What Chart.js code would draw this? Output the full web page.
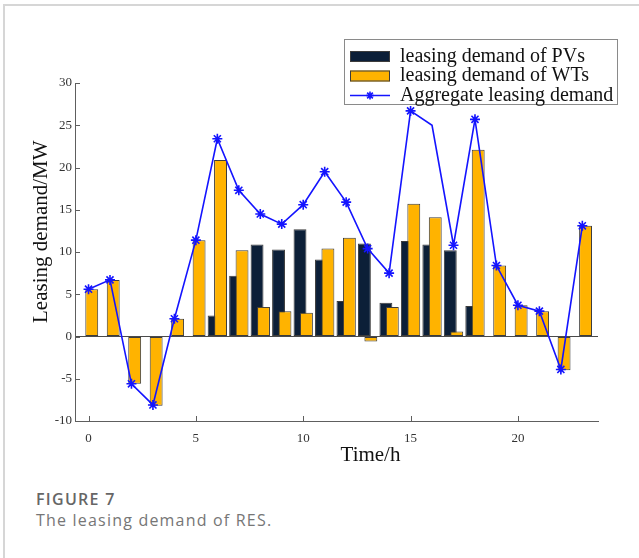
<!DOCTYPE html>
<html>
<head>
<meta charset="utf-8">
<title>The leasing demand of RES</title>
<script src="https://cdn.jsdelivr.net/npm/chart.js@4.4.1/dist/chart.umd.min.js"></script>
<style>
  html, body { margin: 0; padding: 0; background: #fff; }
  #page { position: relative; width: 639px; height: 558px; overflow: hidden; background: #fff; }
  #frame {
    position: absolute; left: 3px; top: 4px; right: -2px; bottom: -2px;
    border-top: 2px solid #d6d6d6; border-left: 2px solid #d6d6d6;
  }
  #chart { position: absolute; left: 0; top: 0; }
  .cap { position: absolute; left: 36px; font-family: 'Open Sans', sans-serif; white-space: nowrap; }
  .cap-num  { top: 489px; font-size: 16px; line-height: 20px; font-weight: 600; color: #666; letter-spacing: 1.3px; }
  .cap-text { top: 510px; font-size: 16px; line-height: 20px; color: #767676; letter-spacing: 1.2px; }
</style>
</head>
<body>
<div id="page">
  <div id="frame"></div>
  <canvas id="chart" width="639" height="480"></canvas>
  <div class="cap cap-num">FIGURE 7</div>
  <div class="cap cap-text">The leasing demand of RES.</div>
</div>

<script>
'use strict';

// ── data ──────────────────────────────────────────────
const HOURS = [0, 1, 2, 3, 4, 5, 6, 7, 8, 9, 10, 11, 12, 13, 14, 15, 16, 17, 18, 19, 20, 21, 22, 23];

const PV_DEMAND = [0, 0, 0, 0, 0, 0, 2.5, 7.2, 10.9, 10.3, 12.7, 9.1,
                   4.2, 11.0, 4.0, 11.3, 10.9, 10.2, 3.6, 0, 0, 0, 0, 0];

const WT_DEMAND = [5.6, 6.7, -5.6, -8.2, 2.1, 11.4, 20.9, 10.2, 3.5, 3.0, 2.8, 10.4,
                   11.7, -0.6, 3.5, 15.7, 14.1, 0.6, 22.1, 8.4, 3.7, 3.0, -4.0, 13.1];

const AGGREGATE = [5.6, 6.7, -5.6, -8.1, 2.1, 11.4, 23.4, 17.3, 14.5, 13.3, 15.6, 19.5,
                   15.9, 10.4, 7.5, 26.7, 25.0, 10.8, 25.7, 8.4, 3.7, 3.0, -3.9, 13.1];

// hours plotted without an asterisk marker
const UNMARKED_HOURS = [16];

const X_TICKS = [0, 5, 10, 15, 20];
const Y_TICKS = [-10, -5, 0, 5, 10, 15, 20, 25, 30];

// ── look ──────────────────────────────────────────────
const SERIF = '"Liberation Serif", "Times New Roman", serif';
const PV_COLOR = '#0c1f38';
const WT_COLOR = '#ffb300';
const LINE_COLOR = '#1414ff';
const EDGE_COLOR = '#3c3c3c';
const AXIS_COLOR = '#5e5e5e';

// x range of the plot, and how far each bar series sits off its hour
const X_MIN = -0.63, X_MAX = 23.73;
const BAR_SHIFT = 0.15;

const pairs = (ys) => HOURS.map((h, i) => ({ x: h, y: ys[i] }));

Chart.defaults.font.family = SERIF;
Chart.defaults.color = '#333';

// ── plugins ───────────────────────────────────────────
// small tick marks pointing into the plot
const inwardTicks = {
  id: 'inwardTicks',
  afterDraw(chart, args, opts) {
    const { ctx, chartArea: a, scales: { x, y } } = chart;
    ctx.save();
    ctx.strokeStyle = opts.color;
    ctx.lineWidth = 1;
    ctx.beginPath();
    x.ticks.forEach(t => {
      const px = Math.round(x.getPixelForValue(t.value)) + 0.5;
      ctx.moveTo(px, a.bottom);
      ctx.lineTo(px, a.bottom - opts.length);
    });
    y.ticks.forEach(t => {
      const py = Math.round(y.getPixelForValue(t.value)) + 0.5;
      ctx.moveTo(a.left, py);
      ctx.lineTo(a.left + opts.length, py);
    });
    ctx.stroke();
    ctx.restore();
  }
};

// axis titles, placed off-centre like the original figure
const axisTitles = {
  id: 'axisTitles',
  afterDraw(chart, args, opts) {
    const { ctx, chartArea: a, scales: { x, y } } = chart;
    ctx.save();
    ctx.fillStyle = opts.color;
    ctx.font = `${opts.size}px ${SERIF}`;
    ctx.textAlign = 'center';
    ctx.textBaseline = 'alphabetic';
    ctx.fillText(x.options.title.text, a.left + (a.right - a.left) * opts.xAt, a.bottom + opts.xDrop);
    ctx.translate(opts.yBaseline, a.top + (a.bottom - a.top) * opts.yAt);
    ctx.rotate(-Math.PI / 2);
    ctx.fillText(y.options.title.text, 0, 0);
    ctx.restore();
  }
};

// boxed legend sitting over the top-right corner
const boxLegend = {
  id: 'boxLegend',
  afterDraw(chart, args, o) {
    const { ctx } = chart;
    ctx.save();
    ctx.fillStyle = '#fff';
    ctx.fillRect(o.left, o.top, o.width, o.height);
    ctx.strokeStyle = '#8a8a8a';
    ctx.lineWidth = 1;
    ctx.strokeRect(o.left + 0.5, o.top + 0.5, o.width, o.height);

    ctx.font = `${o.size}px ${SERIF}`;
    ctx.textBaseline = 'middle';
    ctx.textAlign = 'left';
    chart.data.datasets.forEach((ds, i) => {
      const cy = o.top + o.rowTop + i * o.rowGap;
      const sx = o.left + o.swatchX;
      if (ds.type === 'line') {
        ctx.strokeStyle = ds.borderColor;
        ctx.lineWidth = ds.borderWidth;
        ctx.beginPath();
        ctx.moveTo(sx, cy);
        ctx.lineTo(sx + o.swatchW, cy);
        ctx.stroke();
        Chart.helpers.drawPoint(ctx, {
          pointStyle: 'star', radius: 4, borderWidth: ds.pointBorderWidth
        }, sx + o.swatchW / 2, cy);
      } else {
        ctx.fillStyle = ds.backgroundColor;
        ctx.fillRect(sx, cy - o.swatchH / 2, o.swatchW, o.swatchH);
        ctx.strokeStyle = ds.borderColor;
        ctx.lineWidth = 1;
        ctx.strokeRect(sx + 0.5, cy - o.swatchH / 2 + 0.5, o.swatchW - 1, o.swatchH - 1);
      }
      ctx.fillStyle = '#111';
      ctx.fillText(ds.label, o.left + o.textX, cy);
    });
    ctx.restore();
  }
};

// ── chart ─────────────────────────────────────────────
const barStyle = {
  borderColor: EDGE_COLOR,
  borderWidth: 1,
  borderSkipped: false,
  grouped: false,
  categoryPercentage: 0.6,
  barPercentage: 1.0,
};

new Chart(document.getElementById('chart'), {
  type: 'bar',
  data: {
    datasets: [
      {
        label: 'leasing demand of PVs',
        data: pairs(PV_DEMAND),
        xAxisID: 'xPV',
        backgroundColor: PV_COLOR,
        order: 2,
        ...barStyle,
      },
      {
        label: 'leasing demand of WTs',
        data: pairs(WT_DEMAND),
        xAxisID: 'xWT',
        backgroundColor: WT_COLOR,
        order: 1,
        ...barStyle,
      },
      {
        type: 'line',
        label: 'Aggregate leasing demand',
        data: pairs(AGGREGATE),
        xAxisID: 'x',
        borderColor: LINE_COLOR,
        borderWidth: 1.6,
        tension: 0,
        pointStyle: 'star',
        pointRadius: ctx => UNMARKED_HOURS.includes(HOURS[ctx.dataIndex]) ? 0 : 5,
        pointBorderColor: LINE_COLOR,
        pointBorderWidth: 1.6,
        order: 0,
      },
    ]
  },
  options: {
    responsive: false,
    animation: false,
    layout: { padding: { left: 0, top: 83, right: 41, bottom: 24 } },
    scales: {
      x: {
        type: 'linear',
        position: 'bottom',
        offset: false,
        min: X_MIN,
        max: X_MAX,
        afterFit: s => { s.height = 35; },
        afterBuildTicks: s => { s.ticks = X_TICKS.map(v => ({ value: v })); },
        ticks: { font: { size: 13 }, color: '#333', padding: 2, includeBounds: false },
        grid: { display: false, offset: false },
        border: { display: true, color: AXIS_COLOR, width: 1 },
        title: { display: false, text: 'Time/h' },
      },
      // bar series sit on their own hidden copies of x, nudged either side of the hour
      xPV: {
        type: 'linear', display: false, offset: false,
        min: X_MIN + BAR_SHIFT, max: X_MAX + BAR_SHIFT,
      },
      xWT: {
        type: 'linear', display: false, offset: false,
        min: X_MIN - BAR_SHIFT, max: X_MAX - BAR_SHIFT,
      },
      y: {
        min: -10,
        max: 30,
        afterFit: s => { s.width = 75; },
        afterBuildTicks: s => { s.ticks = Y_TICKS.map(v => ({ value: v })); },
        ticks: { font: { size: 13 }, color: '#333', padding: 3 },
        grid: {
          drawTicks: false,
          color: c => (c.tick && c.tick.value === 0) ? '#4a4a4a' : 'rgba(0,0,0,0)',
          lineWidth: 1,
        },
        border: { display: true, color: AXIS_COLOR, width: 1 },
        title: { display: false, text: 'Leasing demand/MW' },
      },
    },
    plugins: {
      legend: { display: false },
      tooltip: { enabled: false },
      inwardTicks: { color: AXIS_COLOR, length: 5 },
      axisTitles: { color: '#111', size: 21, xAt: 0.565, xDrop: 40, yAt: 0.44, yBaseline: 47 },
      boxLegend: {
        left: 344, top: 39, width: 273, height: 65, size: 20,
        rowTop: 17.5, rowGap: 19.5,
        swatchX: 6, swatchW: 40, swatchH: 11, textX: 56,
      },
    }
  },
  plugins: [inwardTicks, axisTitles, boxLegend]
});
</script>
</body>
</html>
